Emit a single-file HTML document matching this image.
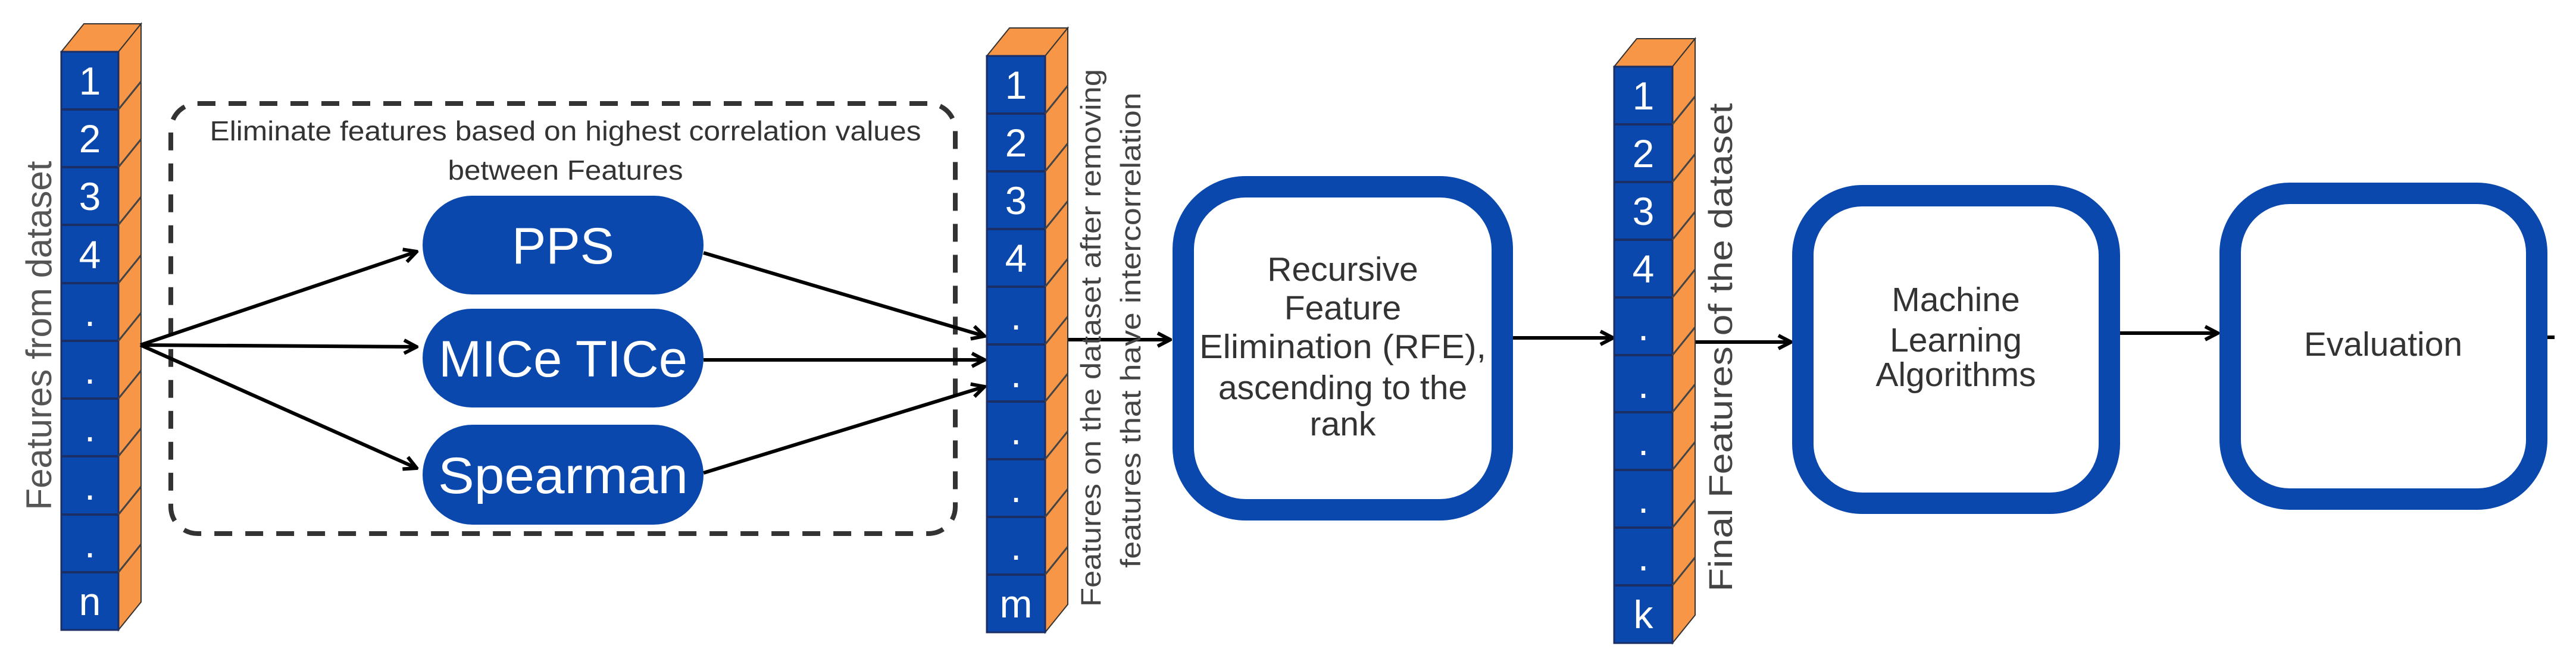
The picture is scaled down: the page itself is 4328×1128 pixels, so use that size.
<!DOCTYPE html>
<html><head><meta charset="utf-8"><style>
html,body{margin:0;padding:0;background:#fff;}
svg{display:block;}
text{font-family:"Liberation Sans",sans-serif;}
</style></head><body>
<svg width="4328" height="1128" viewBox="0 0 4328 1128" xmlns="http://www.w3.org/2000/svg">
<defs>
<marker id="a" viewBox="0 0 30 30" refX="27" refY="15" markerWidth="30" markerHeight="30" markerUnits="userSpaceOnUse" orient="auto">
<path d="M6 4 L27 15 L6 26" fill="none" stroke="#000" stroke-width="6" stroke-linejoin="miter"/>
</marker>
</defs>

<!-- Column 1 -->
<g transform="translate(103,87)">
<polygon points="0,0 96,0 134,-47 38,-47" fill="#f79646" stroke="#333" stroke-width="2"/>
<polygon points="96,0 134,-47 134,925 96,972" fill="#f79646" stroke="#333" stroke-width="2"/>
<rect x="0" y="0" width="96" height="972" fill="#0a48ad" stroke="#1b2f66" stroke-width="3"/>
<path d="M0 97H96M0 194H96M0 291H96M0 389H96M0 486H96M0 583H96M0 680H96M0 778H96M0 875H96" stroke="#1b2f66" stroke-width="4"/>
<path d="M96 97l38 -47M96 194l38 -47M96 291l38 -47M96 389l38 -47M96 486l38 -47M96 583l38 -47M96 680l38 -47M96 778l38 -47M96 875l38 -47" stroke="#444" stroke-width="3"/>
<g fill="#fff" font-size="66" text-anchor="middle">
<text x="48" y="72">1</text><text x="48" y="169">2</text><text x="48" y="266">3</text><text x="48" y="364">4</text>
<text x="48" y="461">.</text><text x="48" y="558">.</text><text x="48" y="655">.</text><text x="48" y="753">.</text><text x="48" y="850">.</text><text x="48" y="947">n</text>
</g>
</g>
<text transform="translate(86,564) rotate(-90)" text-anchor="middle" font-size="60" fill="#555">Features from dataset</text>

<!-- Dashed box -->
<rect x="287" y="174" width="1318" height="723" rx="45" fill="none" stroke="#333" stroke-width="8" stroke-dasharray="30,22"/>
<g font-size="46" fill="#333" text-anchor="middle">
<text x="950" y="236" textLength="1195" lengthAdjust="spacingAndGlyphs">Eliminate features based on highest correlation values</text>
<text x="950" y="302" textLength="395" lengthAdjust="spacingAndGlyphs">between Features</text>
</g>

<!-- Pills -->
<rect x="710" y="329" width="472" height="166" rx="83" fill="#0a48ad"/>
<rect x="710" y="519" width="472" height="166" rx="83" fill="#0a48ad"/>
<rect x="710" y="714" width="472" height="168" rx="84" fill="#0a48ad"/>
<g fill="#fff" font-size="86" text-anchor="middle">
<text x="946" y="443">PPS</text>
<text x="946" y="633" textLength="418" lengthAdjust="spacingAndGlyphs">MICe TICe</text>
<text x="946" y="829" textLength="420" lengthAdjust="spacingAndGlyphs">Spearman</text>
</g>

<!-- Arrows -->
<g stroke="#000" stroke-width="6" fill="none">
<line x1="236" y1="580" x2="700" y2="423" marker-end="url(#a)"/>
<line x1="236" y1="580" x2="700" y2="583" marker-end="url(#a)"/>
<line x1="236" y1="580" x2="700" y2="787" marker-end="url(#a)"/>
<line x1="1182" y1="425" x2="1654" y2="565" marker-end="url(#a)"/>
<line x1="1182" y1="605" x2="1654" y2="605" marker-end="url(#a)"/>
<line x1="1182" y1="795" x2="1654" y2="650" marker-end="url(#a)"/>
<line x1="1792" y1="571" x2="1966" y2="571" marker-end="url(#a)"/>
<line x1="2542" y1="568" x2="2710" y2="568" marker-end="url(#a)"/>
<line x1="2846" y1="575" x2="3009" y2="575" marker-end="url(#a)"/>
<line x1="3562" y1="560" x2="3726" y2="560" marker-end="url(#a)"/>
<line x1="4280" y1="567" x2="4292" y2="567"/>
</g>

<!-- Column 2 -->
<g transform="translate(1658,94)">
<polygon points="0,0 98,0 136,-47 38,-47" fill="#f79646" stroke="#333" stroke-width="2"/>
<polygon points="98,0 136,-47 136,922 98,969" fill="#f79646" stroke="#333" stroke-width="2"/>
<rect x="0" y="0" width="98" height="969" fill="#0a48ad" stroke="#1b2f66" stroke-width="3"/>
<path d="M0 97H98M0 194H98M0 291H98M0 388H98M0 485H98M0 581H98M0 678H98M0 775H98M0 872H98" stroke="#1b2f66" stroke-width="4"/>
<path d="M98 97l38 -47M98 194l38 -47M98 291l38 -47M98 388l38 -47M98 485l38 -47M98 581l38 -47M98 678l38 -47M98 775l38 -47M98 872l38 -47" stroke="#444" stroke-width="3"/>
<g fill="#fff" font-size="66" text-anchor="middle">
<text x="49" y="72">1</text><text x="49" y="169">2</text><text x="49" y="266">3</text><text x="49" y="363">4</text>
<text x="49" y="460">.</text><text x="49" y="557">.</text><text x="49" y="653">.</text><text x="49" y="750">.</text><text x="49" y="847">.</text>
<text x="49" y="944" font-family="Liberation Serif,serif">m</text>
</g>
</g>
<g font-size="47" fill="#444" text-anchor="middle">
<text transform="translate(1849,568) rotate(-90)" textLength="904" lengthAdjust="spacingAndGlyphs">Features on the dataset after removing</text>
<text transform="translate(1916,555) rotate(-90)" textLength="799" lengthAdjust="spacingAndGlyphs">features that have intercorrelation</text>
</g>

<!-- RFE box -->
<rect x="1988" y="314" width="536" height="543" rx="105" fill="#fff" stroke="#0a48ad" stroke-width="36"/>
<g font-size="57" fill="#333" text-anchor="middle">
<text x="2256" y="472">Recursive</text>
<text x="2256" y="537">Feature</text>
<text x="2256" y="602" textLength="482" lengthAdjust="spacingAndGlyphs">Elimination (RFE),</text>
<text x="2256" y="671">ascending to the</text>
<text x="2256" y="732">rank</text>
</g>

<!-- Column 3 -->
<g transform="translate(2712,112)">
<polygon points="0,0 98,0 136,-47 38,-47" fill="#f79646" stroke="#333" stroke-width="2"/>
<polygon points="98,0 136,-47 136,922 98,969" fill="#f79646" stroke="#333" stroke-width="2"/>
<rect x="0" y="0" width="98" height="969" fill="#0a48ad" stroke="#1b2f66" stroke-width="3"/>
<path d="M0 97H98M0 194H98M0 291H98M0 388H98M0 485H98M0 581H98M0 678H98M0 775H98M0 872H98" stroke="#1b2f66" stroke-width="4"/>
<path d="M98 97l38 -47M98 194l38 -47M98 291l38 -47M98 388l38 -47M98 485l38 -47M98 581l38 -47M98 678l38 -47M98 775l38 -47M98 872l38 -47" stroke="#444" stroke-width="3"/>
<g fill="#fff" font-size="66" text-anchor="middle">
<text x="49" y="72">1</text><text x="49" y="169">2</text><text x="49" y="266">3</text><text x="49" y="363">4</text>
<text x="49" y="460">.</text><text x="49" y="557">.</text><text x="49" y="653">.</text><text x="49" y="750">.</text><text x="49" y="847">.</text>
<text x="49" y="944" font-family="Liberation Serif,serif">k</text>
</g>
</g>
<text transform="translate(2910,584) rotate(-90)" text-anchor="middle" font-size="56" fill="#444" textLength="821" lengthAdjust="spacingAndGlyphs">Final Features of the dataset</text>

<!-- ML box -->
<rect x="3029" y="329" width="515" height="517" rx="100" fill="#fff" stroke="#0a48ad" stroke-width="36"/>
<g font-size="57" fill="#333" text-anchor="middle">
<text x="3286" y="523">Machine</text>
<text x="3286" y="591">Learning</text>
<text x="3286" y="649">Algorithms</text>
</g>

<!-- Evaluation box -->
<rect x="3747" y="325" width="515" height="514" rx="100" fill="#fff" stroke="#0a48ad" stroke-width="36"/>
<text x="4004" y="598" font-size="57" fill="#333" text-anchor="middle">Evaluation</text>
</svg>
</body></html>
